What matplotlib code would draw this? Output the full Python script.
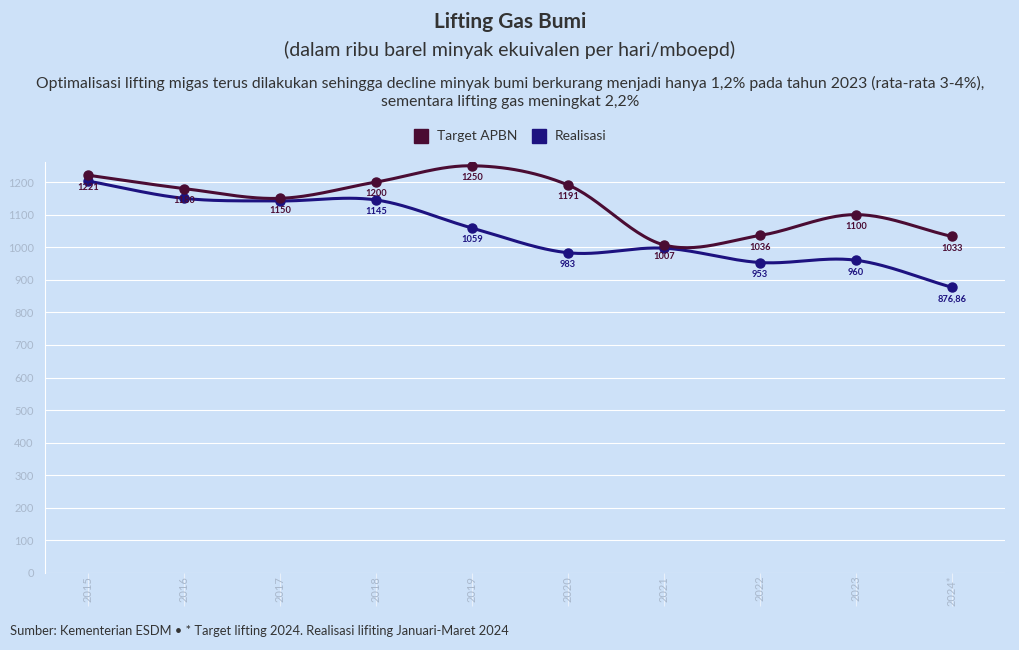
import numpy as np
import matplotlib
matplotlib.use("Agg")
import matplotlib.pyplot as plt
from matplotlib.lines import Line2D

plt.rcParams['font.family'] = ['Lato', 'DejaVu Sans']

# data
tahun = ["2015", "2016", "2017", "2018", "2019", "2020", "2021", "2022", "2023", "2024*"]
target = [1221, 1180, 1150, 1200, 1250, 1191, 1007, 1036, 1100, 1033]
realisasi = [1203, 1150, 1142, 1145, 1059, 983, 997, 953, 960, 876.86]
label_target = ["1221", "1180", "1150", "1200", "1250", "1191", "1007", "1036", "1100", "1033"]
label_realisasi = ["", "", "", "1145", "1059", "983", "", "953", "960", "876,86"]

bg = "#cde1f8"
c_target = "#4a0c33"
c_real = "#1d1280"


def spline(x, y, n=30):
    # catmull-rom smoothing like plotly's spline line shape
    x = np.asarray(x, float)
    y = np.asarray(y, float)
    px = np.concatenate([[2 * x[0] - x[1]], x, [2 * x[-1] - x[-2]]])
    py = np.concatenate([[2 * y[0] - y[1]], y, [2 * y[-1] - y[-2]]])
    xs, ys = [], []
    t = np.linspace(0, 1, n)
    for i in range(1, len(px) - 2):
        p0, p1, p2, p3 = py[i - 1], py[i], py[i + 1], py[i + 2]
        q0, q1, q2, q3 = px[i - 1], px[i], px[i + 1], px[i + 2]
        ys.append(0.5 * (2 * p1 + (-p0 + p2) * t + (2 * p0 - 5 * p1 + 4 * p2 - p3) * t**2
                         + (-p0 + 3 * p1 - 3 * p2 + p3) * t**3))
        xs.append(0.5 * (2 * q1 + (-q0 + q2) * t + (2 * q0 - 5 * q1 + 4 * q2 - q3) * t**2
                         + (-q0 + 3 * q1 - 3 * q2 + q3) * t**3))
    return np.concatenate(xs), np.concatenate(ys)


fig = plt.figure(figsize=(10.2, 6.5), dpi=100, facecolor=bg)
ax = fig.add_axes([0.044, 0.1185, 0.941, 0.632], facecolor=bg)

x = np.arange(len(tahun))
for vals, col in [(realisasi, c_real), (target, c_target)]:
    sx, sy = spline(x, vals)
    ax.plot(sx, sy, color=col, lw=2.2, zorder=3)
    ax.plot(x, vals, 'o', color=col, ms=6.5, zorder=4)

for i in range(len(x)):
    if label_target[i]:
        ax.annotate(label_target[i], (x[i], target[i]), xytext=(0, -8.5), textcoords="offset points",
                    ha="center", va="center", fontsize=6.7, fontweight="bold", color=c_target, zorder=5)
    if label_realisasi[i]:
        ax.annotate(label_realisasi[i], (x[i], realisasi[i]), xytext=(0, -8.5), textcoords="offset points",
                    ha="center", va="center", fontsize=6.7, fontweight="bold", color=c_real, zorder=5)

ax.set_xlim(-0.45, 9.55)
ax.set_ylim(0, 1261)
ax.set_yticks(range(0, 1201, 100))
ax.set_xticks(x)
ax.set_xticklabels(tahun, rotation=90, fontsize=8, color="#a9b8cc")
ax.tick_params(axis="y", labelsize=8, labelcolor="#a9b8cc", length=0, pad=8)
ax.tick_params(axis="x", length=24, color="#e8f0fa", width=0.8, pad=-22)
ax.grid(axis="y", color="white", lw=0.8)
ax.set_axisbelow(True)
for s in ["top", "right", "bottom"]:
    ax.spines[s].set_visible(False)
ax.spines["left"].set_color("white")
ax.spines["left"].set_linewidth(0.8)

fig.text(0.5, 0.966, "Lifting Gas Bumi", ha="center", va="center", fontsize=15,
         fontweight="bold", color="#333333")
fig.text(0.5, 0.923, "(dalam ribu barel minyak ekuivalen per hari/mboepd)", ha="center",
         va="center", fontsize=14, color="#333333")
fig.text(0.5, 0.858, "Optimalisasi lifting migas terus dilakukan sehingga decline minyak bumi berkurang "
         "menjadi hanya 1,2% pada tahun 2023 (rata-rata 3-4%),\nsementara lifting gas meningkat 2,2%",
         ha="center", va="center", fontsize=11.3, color="#333333", linespacing=1.35)

handles = [Line2D([], [], ls="", marker="s", ms=10, color=c_target, label="Target APBN"),
           Line2D([], [], ls="", marker="s", ms=10, color=c_real, label="Realisasi")]
fig.legend(handles=handles, loc="center", bbox_to_anchor=(0.497, 0.79), ncol=2, frameon=False,
           fontsize=10, handletextpad=0.1, columnspacing=0.6, labelcolor="#333333")

fig.text(0.01, 0.029, "Sumber: Kementerian ESDM \u2022 * Target lifting 2024. Realisasi lifiting Januari-Maret 2024",
         ha="left", va="center", fontsize=9.3, color="#333333")

fig.savefig("out.png", dpi=100, facecolor=bg)
